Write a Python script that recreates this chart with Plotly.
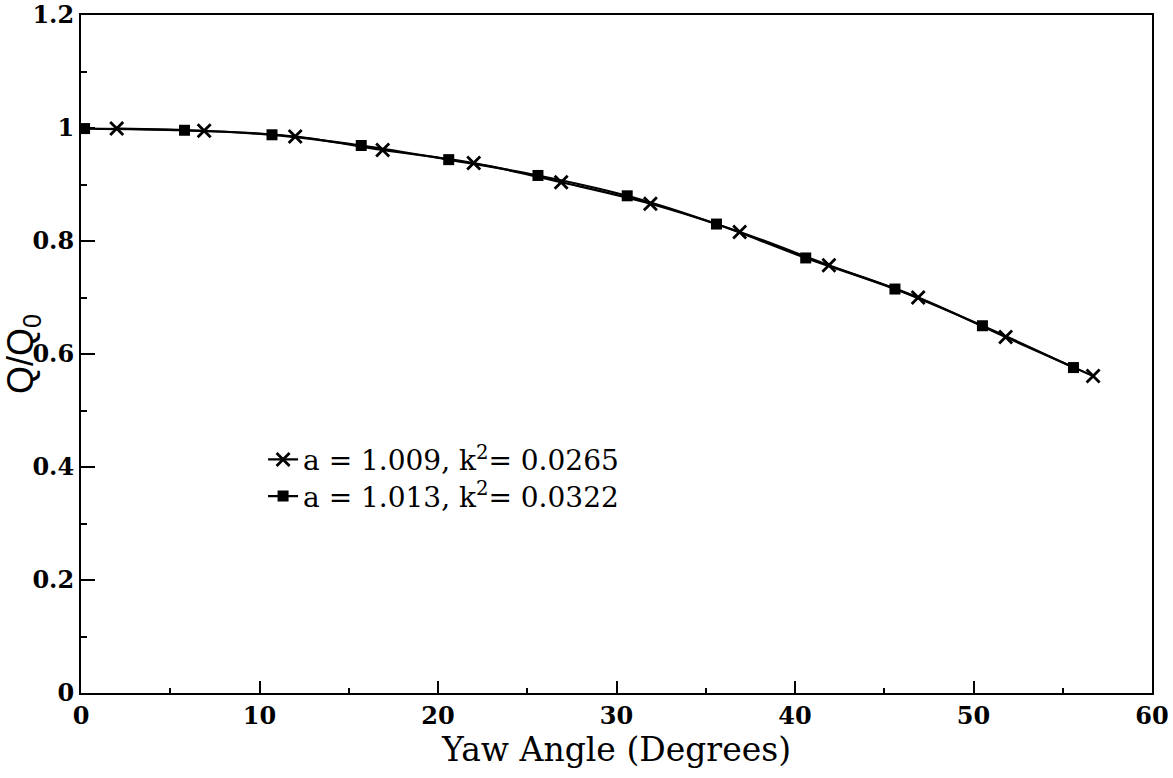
import plotly.graph_objects as go

# Yaw angle (degrees) and normalised flow Q/Q0 for the two fitted curves
yaw_a = [2.0, 6.9, 12.0, 16.9, 22.0, 26.9, 31.9, 36.9, 41.9, 46.9, 51.8, 56.7]
q_a = [0.999, 0.995, 0.985, 0.961, 0.938, 0.904, 0.866, 0.816, 0.757, 0.700, 0.630, 0.561]

yaw_b = [0.2, 5.8, 10.7, 15.7, 20.6, 25.6, 30.6, 35.6, 40.6, 45.6, 50.5, 55.6]
q_b = [0.999, 0.996, 0.988, 0.969, 0.944, 0.916, 0.880, 0.830, 0.770, 0.715, 0.650, 0.576]

label_a = "a = 1.009, k<sup>2</sup>= 0.0265"
label_b = "a = 1.013, k<sup>2</sup>= 0.0322"

x_ticks = [0, 10, 20, 30, 40, 50, 60]
y_ticks = [0, 0.2, 0.4, 0.6, 0.8, 1.0, 1.2]
y_tick_text = ["0", "0.2", "0.4", "0.6", "0.8", "1", "1.2"]

serif = "DejaVu Serif, Liberation Serif, serif"
sans = "Liberation Sans, Arial, sans-serif"

fig = go.Figure()
fig.add_trace(go.Scatter(
    x=yaw_a, y=q_a, name=label_a, mode="lines+markers", legend="legend",
    line=dict(color="black", width=2.2, shape="spline"),
    marker=dict(symbol="x-thin", size=13, color="black",
                line=dict(color="black", width=2.8)),
))
fig.add_trace(go.Scatter(
    x=yaw_b, y=q_b, name=label_b, mode="lines+markers", legend="legend2",
    line=dict(color="black", width=2.2, shape="spline"),
    marker=dict(symbol="square", size=11, color="black"),
))

legend_style = dict(
    x=0.17, xanchor="left", yanchor="middle", bgcolor="rgba(0,0,0,0)",
    font=dict(family=serif, size=28, color="black"), itemwidth=30,
)

fig.update_layout(
    width=1173, height=778,
    margin=dict(l=81, r=21, t=15, b=85),
    paper_bgcolor="white", plot_bgcolor="white",
    font=dict(family=serif, color="black"),
    showlegend=True,
    legend=dict(y=0.344, **legend_style),
    legend2=dict(y=0.290, **legend_style),
)

fig.update_xaxes(
    range=[0, 60], tickvals=x_ticks, ticks="inside", ticklen=12, tickwidth=2,
    tickcolor="black", showline=True, linecolor="black", linewidth=2, mirror=True,
    showgrid=False, zeroline=False, automargin=False, ticklabeloverflow="allow",
    tickfont=dict(family=serif, size=24, color="black", weight="bold"),
    minor=dict(dtick=5, ticks="inside", ticklen=5, tickwidth=2, tickcolor="black"),
    title=dict(text="Yaw Angle (Degrees)", font=dict(family=serif, size=33), standoff=6),
)
fig.update_yaxes(
    range=[0, 1.2], tickvals=y_ticks, ticktext=y_tick_text, ticks="inside",
    ticklen=14, tickwidth=2, tickcolor="black", showline=True, linecolor="black",
    linewidth=2, mirror=True, showgrid=False, zeroline=False,
    automargin=False, ticklabeloverflow="allow",
    tickfont=dict(family=serif, size=24, color="black", weight="bold"),
    minor=dict(dtick=0.1, ticks="inside", ticklen=6, tickwidth=2, tickcolor="black"),
    title=dict(text="Q/Q<sub>0</sub>", font=dict(family=sans, size=36), standoff=2),
)

fig.write_html("out.html")
